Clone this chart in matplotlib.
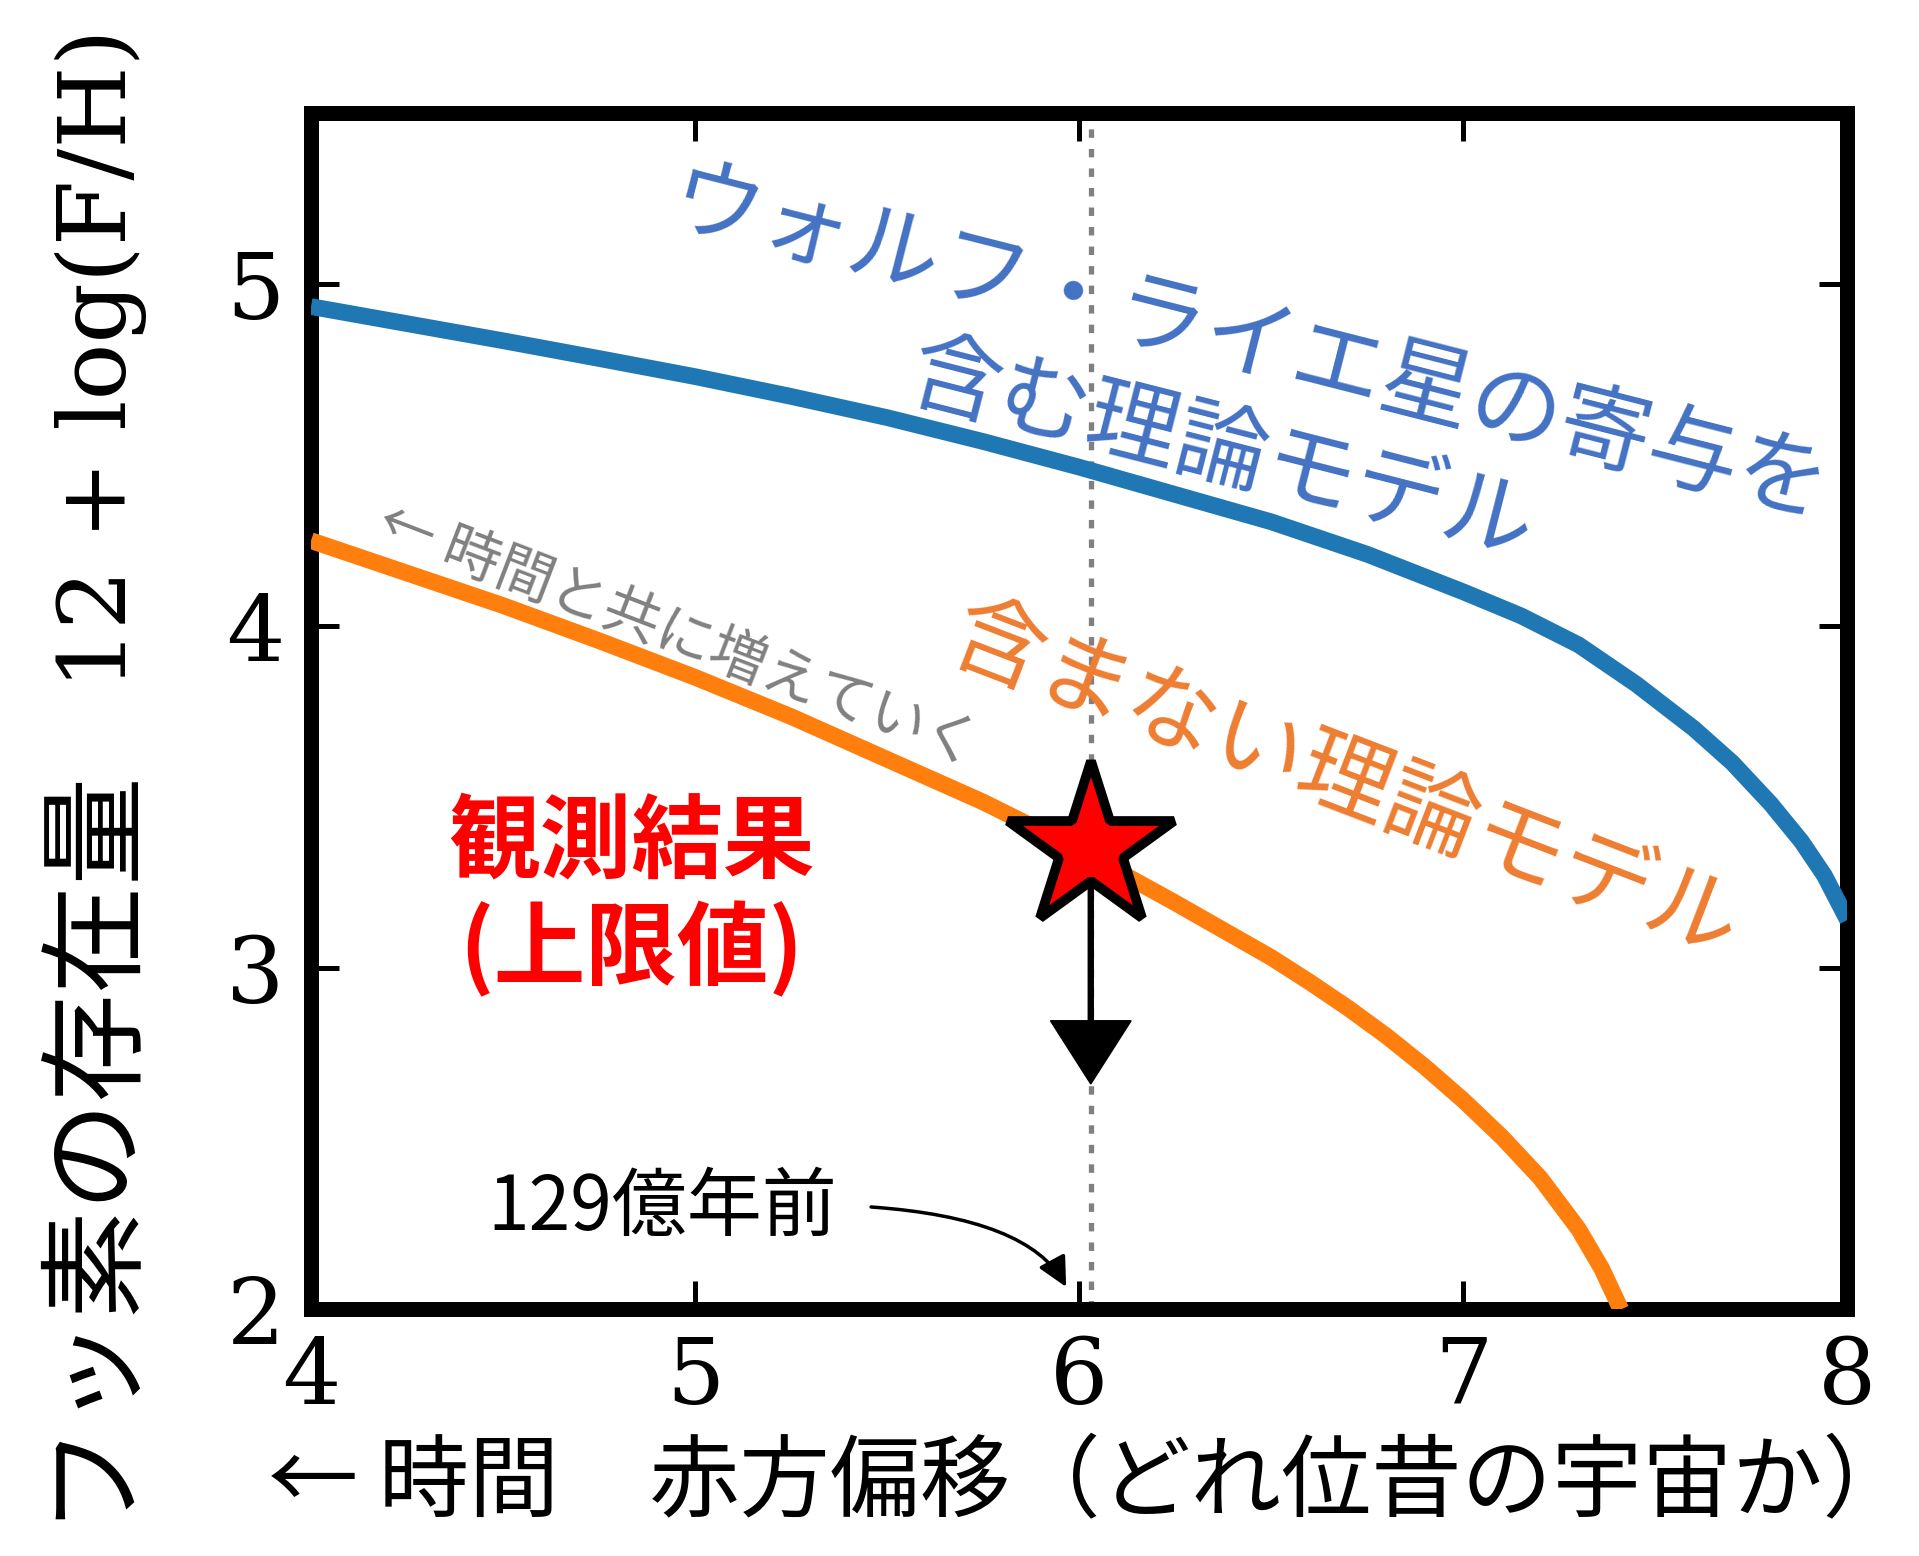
import matplotlib
matplotlib.use("Agg")
import matplotlib.pyplot as plt

# ---------------- data ----------------
z_wr = [4.0, 4.25, 4.5, 4.75, 5.0, 5.25, 5.5, 5.75, 6.0, 6.25, 6.5, 6.75, 7.0,
        7.15, 7.3, 7.45, 7.6, 7.7, 7.8, 7.88, 7.94, 8.0]
f_wr = [4.935, 4.885, 4.835, 4.783, 4.73, 4.672, 4.61, 4.54, 4.465, 4.385, 4.305,
        4.21, 4.10, 4.03, 3.945, 3.83, 3.70, 3.60, 3.48, 3.37, 3.27, 3.14]

z_nowr = [4.0, 4.25, 4.5, 4.75, 5.0, 5.25, 5.5, 5.75, 6.0, 6.25, 6.5, 6.6, 6.7,
          6.8, 6.9, 7.0, 7.1, 7.2, 7.3, 7.36, 7.41]
f_nowr = [4.25, 4.155, 4.06, 3.957, 3.85, 3.735, 3.61, 3.485, 3.345, 3.19, 3.03,
          2.958, 2.882, 2.80, 2.71, 2.612, 2.505, 2.385, 2.235, 2.12, 2.0]

z_obs = 6.03
f_obs_upper = 3.35
f_arrow_end = 2.66

xticks = [4, 5, 6, 7, 8]
yticks = [2, 3, 4, 5]

label_wr = "ウォルフ・ライエ星の寄与を\n含む理論モデル"
label_nowr = "含まない理論モデル"
label_obs = "観測結果\n(上限値)"
label_time = "← 時間と共に増えていく"
label_age = "129億年前"
xlabel = "← 時間　赤方偏移（どれ位昔の宇宙か）"
ylabel_jp = "フッ素の存在量"
ylabel_en = "12 + log(F/H)"

CJK = ["Noto Sans CJK JP", "DejaVu Sans"]

plt.rcParams["font.family"] = ["DejaVu Serif", "Noto Sans CJK JP"]

fig = plt.figure(figsize=(19.19, 15.56), dpi=100)
ax = fig.add_axes([0.16206, 0.15842, 0.80068, 0.76864])

ax.plot(z_wr, f_wr, color="#1f77b4", lw=12, solid_capstyle="butt",
        solid_joinstyle="round", zorder=3)
ax.plot(z_nowr, f_nowr, color="#ff7f0e", lw=12, solid_capstyle="butt",
        solid_joinstyle="round", zorder=3)

ax.axvline(z_obs, color="#808080", lw=3.8, ls=(0, (1.6, 2.1)), zorder=1.5)

ax.arrow(z_obs, f_obs_upper, 0, f_arrow_end - f_obs_upper, width=0.013,
         head_width=0.21, head_length=0.185, length_includes_head=True,
         fc="black", ec="black", lw=1, zorder=4)
ax.plot([z_obs], [f_obs_upper], marker="*", ms=125, mfc="red", mec="black",
        mew=7, zorder=5, ls="none")

ax.text(6.406, 4.663, label_wr, color="#4472C4", fontsize=66, family=CJK,
        rotation=-14.3, rotation_mode="anchor", ha="center", va="center",
        multialignment="center", zorder=6)
ax.text(6.69, 3.54, label_nowr, color="#ED7D31", fontsize=67, family=CJK,
        rotation=-21, rotation_mode="anchor", ha="center", va="center", zorder=6)
ax.text(4.955, 3.972, label_time, color="#808080", fontsize=41, family=CJK,
        rotation=-21, rotation_mode="anchor", ha="center", va="center", zorder=6)
ax.text(4.833, 3.205, label_obs, color="red", fontsize=66, family=CJK,
        fontweight="bold", ha="center", va="center", multialignment="center",
        linespacing=1.15, zorder=6)

ax.text(4.46, 2.297, label_age, color="black", fontsize=54, family=CJK,
        ha="left", va="center", zorder=6)
ax.annotate("", xy=(5.966, 2.066), xytext=(5.458, 2.30),
            arrowprops=dict(arrowstyle="-|>,head_length=0.6,head_width=0.3",
                            mutation_scale=30, color="black", lw=2.5,
                            shrinkA=0, shrinkB=0,
                            connectionstyle="angle3,angleA=-4,angleB=-61.5"),
            zorder=6)

ax.set_xlim(4, 8)
ax.set_ylim(2, 5.5)
ax.set_xticks(xticks)
ax.set_yticks(yticks)
ax.tick_params(direction="in", length=20, width=3.6, top=True, right=True,
               labelsize=66)
ax.tick_params(axis="x", pad=18)
ax.tick_params(axis="y", pad=19)
for lab in ax.get_xticklabels() + ax.get_yticklabels():
    lab.set_family("DejaVu Serif")
for sp in ax.spines.values():
    sp.set_linewidth(10.8)

fig.text(1090 / 1919, 1 - 1484 / 1556, xlabel, fontsize=65, family=CJK,
         ha="center", va="center")
fig.text(86 / 1919, 1 - 1140 / 1556, ylabel_jp, fontsize=78, family=CJK,
         rotation=90, ha="center", va="center")
fig.text(101 / 1919, 1 - 359 / 1556, ylabel_en, fontsize=68, family="DejaVu Serif",
         rotation=90, ha="center", va="center")

fig.savefig("out.png", dpi=100)
